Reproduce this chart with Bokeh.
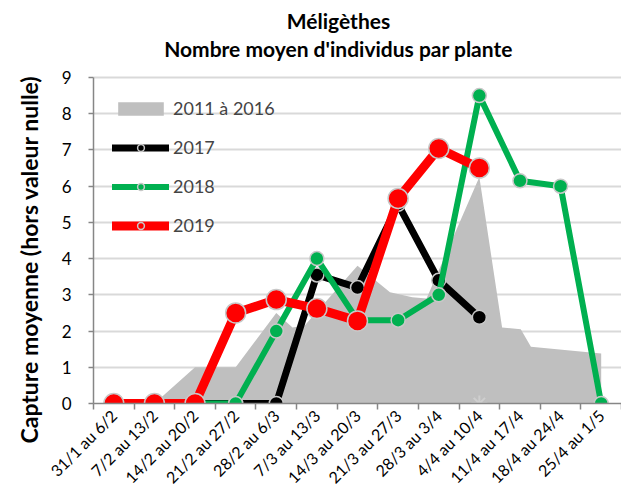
import math
from bokeh.plotting import figure
from bokeh.models import Range1d, FixedTicker, Legend, LegendItem, Label, Title
from bokeh.embed import file_html
from bokeh.resources import INLINE

# ---- data ----
weeks = ["31/1 au 6/2", "7/2 au 13/2", "14/2 au 20/2", "21/2 au 27/2", "28/2 au 6/3",
         "7/3 au 13/3", "14/3 au 20/3", "21/3 au 27/3", "28/3 au 3/4", "4/4 au 10/4",
         "11/4 au 17/4", "18/4 au 24/4", "25/4 au 1/5"]

# reference period 2011-2016 (finer resolution, position in weeks)
ref_pos = [1, 2, 3, 4, 4.4, 4.7, 6, 6.8, 7.35, 7.7, 9, 9.56, 10.02, 10.27, 12, 12]
ref_val = [0, 1.0, 1.0, 2.5, 2.1, 2.15, 3.8, 3.07, 2.93, 2.9, 6.25, 2.1, 2.05, 1.57, 1.38, 0]

y2017 = [0, 0, 0, 0, 0, 3.55, 3.2, 5.5, 3.4, 2.38]
y2018 = [0, 0, 0, 0, 2.0, 4.0, 2.3, 2.3, 3.0, 8.5, 6.15, 6.0, 0]
y2019 = [0, 0, 0, 2.5, 2.87, 2.62, 2.28, 5.66, 7.04, 6.5]

star_pos = [9]
star_val = [0]

yticks = list(range(0, 10))
YMAX = 9

FONT = "Lato"
GRID = "#d9d9d9"
AXIS = "#868686"

# layout (pixels)
W, H = 621, 496
LEFT, BOTTOM_PANEL = 92, 93
PLOT_TOP = 77                     # pixel row of the value YMAX
FRAME_H = H - BOTTOM_PANEL        # frame runs from the top of the canvas
y_end = YMAX * FRAME_H / (FRAME_H - PLOT_TOP)   # leaves room for the titles inside the frame

p = figure(width=W, height=H, output_backend="svg", toolbar_location=None,
           x_range=Range1d(-0.5, len(weeks) - 0.5), y_range=Range1d(0, y_end),
           min_border_left=LEFT, min_border_right=0, min_border_top=0, min_border_bottom=BOTTOM_PANEL,
           title=None)
p.outline_line_color = None
p.background_fill_color = "white"

# titles (screen units relative to the frame's bottom-left corner)
p.add_layout(Label(x=245, y=FRAME_H - 20, x_units="screen", y_units="screen",
                   text="Méligèthes", text_align="center", text_baseline="middle",
                   text_font=FONT, text_font_size="21px", text_font_style="bold", text_color="black"))
p.add_layout(Label(x=245, y=FRAME_H - 48, x_units="screen", y_units="screen",
                   text="Nombre moyen d'individus par plante", text_align="center", text_baseline="middle",
                   text_font=FONT, text_font_size="21px", text_font_style="bold", text_color="black"))

ylab = Title(text="Capture moyenne (hors valeur nulle)", align="left", offset=-40, standoff=28,
             vertical_align="top",
             text_font=FONT, text_font_size="23px", text_font_style="bold", text_color="black")
p.add_layout(ylab, "left")

# axes
idx = list(range(len(weeks)))
p.xaxis.ticker = FixedTicker(ticks=idx, minor_ticks=[i - 0.5 for i in range(len(weeks) + 1)])
p.xaxis.major_label_overrides = {i: w for i, w in zip(idx, weeks)}
p.xaxis.major_label_orientation = math.pi / 4
p.xaxis.major_tick_out = 0
p.xaxis.major_tick_in = 0
p.xaxis.minor_tick_out = 6
p.xaxis.minor_tick_in = 0
p.xaxis.minor_tick_line_color = AXIS
p.xaxis.minor_tick_line_width = 1.5
p.xaxis.axis_line_color = AXIS
p.xaxis.axis_line_width = 1.5
p.xaxis.major_label_text_font = FONT
p.xaxis.major_label_text_font_size = "16px"
p.xaxis.major_label_text_color = "black"
p.xaxis.major_label_standoff = 3

p.yaxis.ticker = FixedTicker(ticks=yticks, minor_ticks=[])
p.yaxis.bounds = (0, YMAX)
p.yaxis.major_tick_out = 5
p.yaxis.major_tick_in = 0
p.yaxis.major_tick_line_color = AXIS
p.yaxis.major_tick_line_width = 1.5
p.yaxis.axis_line_color = AXIS
p.yaxis.axis_line_width = 1.5
p.yaxis.major_label_text_font = FONT
p.yaxis.major_label_text_font_size = "17px"
p.yaxis.major_label_text_color = "black"
p.yaxis.major_label_standoff = 17

p.xgrid.grid_line_color = None
p.ygrid.grid_line_color = GRID
p.ygrid.grid_line_width = 2

# reference area
r_area = p.varea(x=ref_pos, y1=0, y2=ref_val, fill_color="#bfbfbf")
p.scatter(x=star_pos, y=star_val, marker="asterisk", size=16, line_color="#cfcfcf", line_width=2)

def series(vals, color, lw, ms):
    xs = idx[:len(vals)]
    ln = p.line(x=xs, y=vals, line_color=color, line_width=lw, line_join="round", line_cap="round")
    pt = p.scatter(x=xs, y=vals, size=ms, fill_color=color, line_color="#c8c8c8", line_width=1.5)
    return ln, pt

l17, s17 = series(y2017, "black", 7, 14)
l18, s18 = series(y2018, "#00b050", 6, 14)
l19, s19 = series(y2019, "#ff0000", 9, 20)

legend = Legend(items=[
    LegendItem(label="2011 à 2016", renderers=[r_area]),
    LegendItem(label="2017", renderers=[l17, s17]),
    LegendItem(label="2018", renderers=[l18, s18]),
    LegendItem(label="2019", renderers=[l19, s19]),
], location=(19, 167), margin=0, padding=10, spacing=17, glyph_width=57, glyph_height=17,
    label_height=17, label_standoff=4, label_text_font=FONT, label_text_font_size="18px",
    background_fill_alpha=0, border_line_color=None)
p.add_layout(legend)

open("out.html", "w").write(file_html(p, INLINE))
